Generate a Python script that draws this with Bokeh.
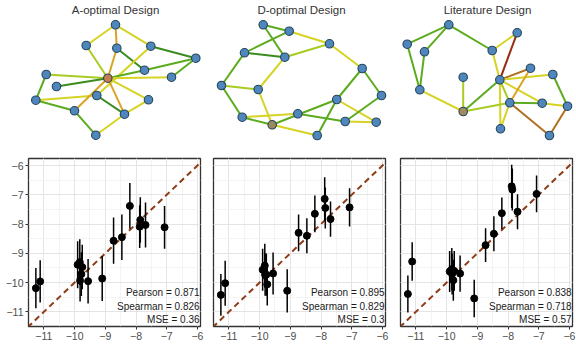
from bokeh.plotting import figure
from bokeh.layouts import column, row
from bokeh.models import Range1d, FixedTicker, ColumnDataSource
from bokeh.core.properties import value
from bokeh.embed import file_html
from bokeh.resources import INLINE

FONT = "Liberation Sans"

# ---------------- scatter data ----------------
exp_x = [-11.26, -11.12, -9.90, -9.83, -9.82, -9.78, -9.75, -9.56, -9.10,
         -8.73, -8.46, -8.20, -7.88, -7.86, -7.69, -7.07]
pred_a = [-10.19, -9.96, -9.39, -9.30, -9.93, -9.71, -9.47, -9.95, -9.86,
          -8.57, -8.45, -7.38, -8.09, -7.86, -8.03, -8.11]
err_a = [0.69, 0.72, 0.80, 0.78, 0.72, 0.75, 0.76, 0.76, 0.77,
         0.79, 0.78, 0.78, 0.73, 0.78, 0.77, 0.73]
pred_d = [-10.42, -10.02, -9.56, -9.42, -9.73, -9.73, -10.06, -9.69, -10.28,
          -8.30, -8.40, -7.65, -7.14, -7.45, -7.83, -7.43]
err_d = [0.71, 0.77, 0.72, 0.75, 0.72, 0.72, 0.72, 0.72, 0.74,
         0.63, 0.60, 0.63, 0.74, 0.70, 0.60, 0.65]
pred_l = [-10.39, -9.28, -9.62, -9.54, -9.71, -9.92, -9.60, -9.69, -10.54,
          -8.72, -8.33, -7.63, -6.71, -6.82, -7.58, -6.97]
err_l = [0.63, 0.66, 0.70, 0.72, 0.70, 0.70, 0.68, 0.62, 0.64,
         0.58, 0.60, 0.54, 0.74, 0.72, 0.60, 0.63]
stats_pearson = ["0.871", "0.895", "0.838"]
stats_spearman = ["0.826", "0.829", "0.718"]
stats_mse = ["0.36", "0.3", "0.57"]
x_ticks = [-11, -10, -9, -8, -7, -6]
y_ticks = [-11, -10, -9, -8, -7, -6]
titles = ["A-optimal Design", "D-optimal Design", "Literature Design"]

# ---------------- network data (layout coordinates, px) ----------------
netA_x = [115, 85.7, 116.3, 150.3, 195.3, 144, 45.7, 107.3, 171, 56, 96.3, 35.3, 148, 74, 124, 95.3]
netA_y = [24.3, 45, 47.7, 45.7, 57.7, 69.7, 74, 77.7, 76.7, 86, 95, 99.7, 99.3, 110.3, 113.7, 134.7]
netA_e0 = [0, 0, 0, 2, 1, 2, 3, 3, 4, 4, 5, 7, 6, 6, 9, 11, 11, 7, 7, 12, 10, 13, 15, 13]
netA_e1 = [1, 3, 2, 7, 7, 5, 4, 10, 5, 8, 7, 8, 7, 11, 7, 10, 13, 14, 12, 14, 14, 15, 14, 7]
netA_w = [3, 3, 4, 4, 2, 0, 0, 3, 1, 1, 1, 3, 2, 1, 0, 3, 1, 4, 3, 3, 0, 1, 3, 4]
netA_hi = 7

netD_x = [262.7, 288.7, 329, 244, 284.3, 361.7, 221, 257.7, 381, 336.3, 297.3, 241.7, 271.7, 344.7, 375.7, 316.7]
netD_y = [24.3, 30.7, 43.3, 52.3, 56.7, 68, 85, 89, 95, 99, 113.3, 116.7, 124.3, 121, 121.7, 135]
netD_e0 = [0, 0, 1, 1, 3, 4, 4, 3, 2, 5, 5, 6, 6, 7, 11, 11, 12, 12, 10, 9, 9, 8, 13]
netD_e1 = [1, 4, 3, 2, 4, 2, 7, 6, 5, 8, 9, 7, 11, 12, 10, 12, 9, 15, 13, 14, 15, 13, 14]
netD_w = [1, 1, 1, 3, 0, 2, 3, 1, 3, 1, 1, 2, 1, 3, 3, 1, 1, 3, 1, 3, 1, 1, 3]
netD_hi = 12

netL_x = [448.3, 516.7, 406.7, 424, 491.7, 530, 552.3, 462.7, 499.3, 419.3, 509.3, 541.7, 567, 462.7, 500, 549]
netL_y = [24.3, 32.3, 43.7, 51.3, 50, 67.7, 74, 76.7, 79.3, 89.3, 102.3, 102.7, 105.7, 111, 128.3, 135]
netL_e0 = [0, 0, 0, 2, 3, 9, 7, 4, 4, 1, 8, 8, 8, 8, 8, 8, 5, 10, 10, 10, 10, 6, 12, 11]
netL_e1 = [2, 3, 4, 9, 9, 13, 13, 1, 8, 8, 13, 5, 6, 11, 14, 10, 10, 11, 13, 15, 14, 12, 15, 12]
netL_w = [1, 1, 1, 1, 1, 3, 2, 3, 3, 6, 1, 5, 3, 3, 3, 2, 4, 1, 2, 5, 3, 1, 5, 3]
netL_hi = 13

edge_palette = ["#3a8c1e", "#5cab1f", "#a9cc23", "#d6d323", "#d9a425", "#b0701e", "#9a2a12"]
node_fill = "#4f86bd"
hi_fill = ["#c67a4e", "#9a8b5e", "#a08a5e"]

# ---------------- top figure (networks) ----------------
TOP_H = 153
top = figure(width=576, height=TOP_H, output_backend="svg", toolbar_location=None,
             x_range=Range1d(0, 576), y_range=Range1d(TOP_H, 0),
             min_border=0, min_border_left=0, min_border_right=0,
             min_border_top=0, min_border_bottom=0)
top.axis.visible = False
top.grid.visible = False
top.outline_line_color = None
top.background_fill_color = "white"

nets = [(netA_x, netA_y, netA_e0, netA_e1, netA_w, netA_hi),
        (netD_x, netD_y, netD_e0, netD_e1, netD_w, netD_hi),
        (netL_x, netL_y, netL_e0, netL_e1, netL_w, netL_hi)]
for k, (nx, ny, e0, e1, w, hi) in enumerate(nets):
    src = ColumnDataSource(dict(
        x0=[nx[a] for a in e0], y0=[ny[a] for a in e0],
        x1=[nx[b] for b in e1], y1=[ny[b] for b in e1],
        c=[edge_palette[v] for v in w]))
    top.segment("x0", "y0", "x1", "y1", source=src, line_color="c", line_width=2)
    fills = [hi_fill[k] if i == hi else node_fill for i in range(len(nx))]
    top.scatter(nx, ny, size=8.5, fill_color=fills, line_color="#24465a", line_width=1.1)

title_x = [115, 301, 487]
title_y = [9, 9, 9]
top.text(title_x, title_y, text=titles, text_font=value(FONT), text_font_size="11.5px",
         text_color="#333333", text_align="center", text_baseline="middle")

# ---------------- bottom scatter figures ----------------
BOT_H = 344 - TOP_H
preds = [pred_a, pred_d, pred_l]
errs = [err_a, err_d, err_l]
widths = [206, 184, 186]
left_b = [28, 7, 10]
right_b = [6, 5, 4]

bots = []
for k in range(3):
    p = figure(width=widths[k], height=BOT_H, output_backend="svg", toolbar_location=None,
               x_range=Range1d(-11.5, -5.9), y_range=Range1d(-11.5, -5.76),
               min_border_left=left_b[k], min_border_right=right_b[k],
               min_border_top=5, min_border_bottom=18)
    p.background_fill_color = "white"
    p.outline_line_color = "#333333"
    p.outline_line_width = 1.3
    minors = [-11.5 + 0.5 * i for i in range(12)]
    p.xaxis.ticker = FixedTicker(ticks=x_ticks, minor_ticks=minors)
    p.yaxis.ticker = FixedTicker(ticks=y_ticks, minor_ticks=minors)
    p.grid.grid_line_color = "#e4e4e4"
    p.grid.grid_line_width = 1
    p.grid.minor_grid_line_color = "#f1f1f1"
    p.grid.minor_grid_line_width = 0.8
    for ax in p.axis:
        ax.axis_line_color = None
        ax.major_tick_out = 3
        ax.major_tick_in = 0
        ax.minor_tick_out = 0
        ax.minor_tick_in = 0
        ax.major_tick_line_color = "#333333"
        ax.major_label_text_font = FONT
        ax.major_label_text_font_size = "10.5px"
        ax.major_label_text_color = "#4d4d4d"
        ax.major_label_standoff = 2
    if k > 0:
        p.yaxis.visible = False

    diag = [-12, -5]
    p.line(diag, diag, line_color="#8e3b17", line_width=2, line_dash="6 4")

    y = preds[k]
    e = errs[k]
    p.segment(exp_x, [a - b for a, b in zip(y, e)], exp_x, [a + b for a, b in zip(y, e)],
              line_color="black", line_width=1.5)
    p.scatter(exp_x, y, size=7, fill_color="black", line_color="black")

    lab = ["Pearson = " + stats_pearson[k], "Spearman = " + stats_spearman[k],
           "MSE = " + stats_mse[k]]
    p.text([-5.93, -5.93, -5.93], [-10.34, -10.82, -11.26], text=lab,
           text_font=value(FONT), text_font_size="10px", text_color="#1a1a1a",
           text_align="right", text_baseline="middle")
    bots.append(p)

layout = column(top, row(*bots, spacing=0), spacing=0)
open("out.html", "w").write(file_html(layout, INLINE))
